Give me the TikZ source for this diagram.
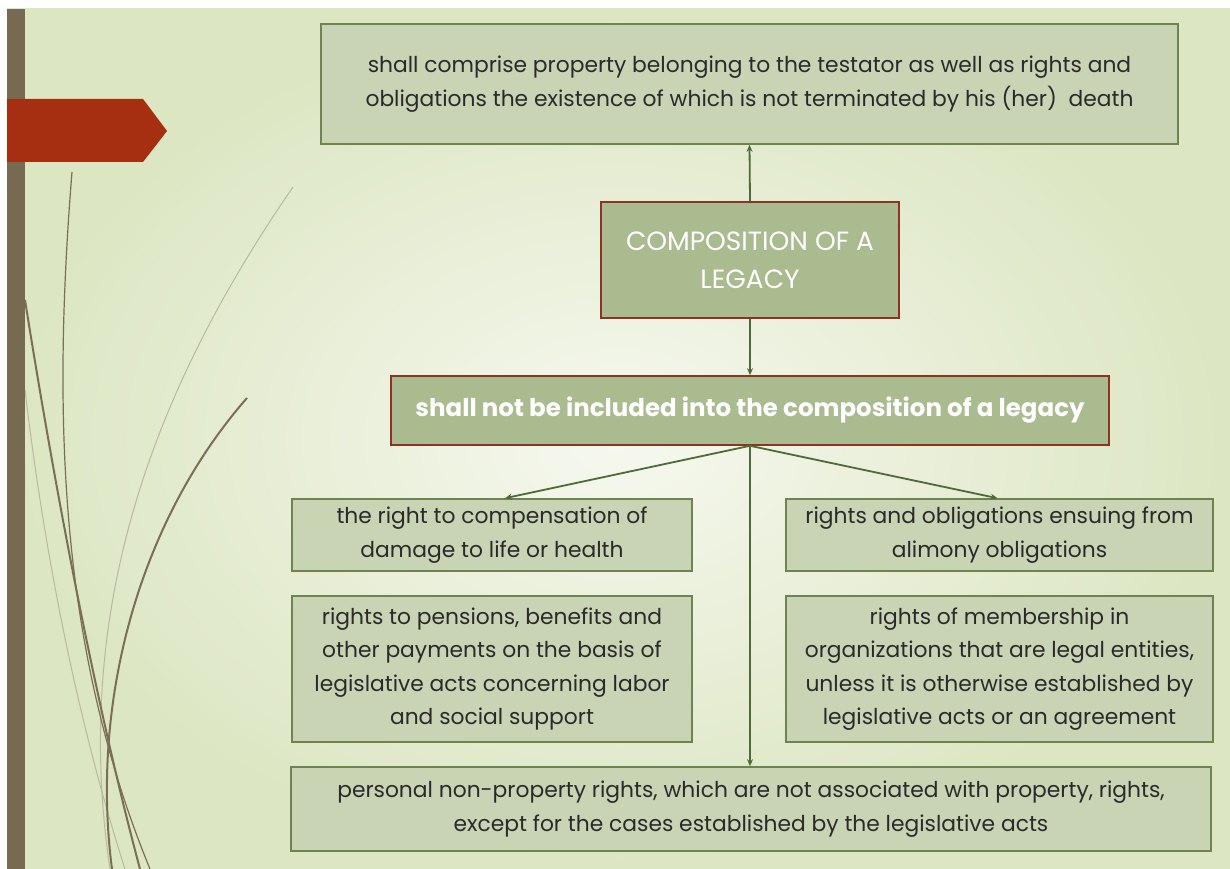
\documentclass[tikz,border=0pt]{standalone}
\usepackage{fontspec}
\setmainfont{Poppins}
\usetikzlibrary{arrows.meta,calc}
\definecolor{bgA}{HTML}{DCE6C2}
\definecolor{bgB}{HTML}{F6F8EF}
\definecolor{barc}{HTML}{766B52}
\definecolor{redc}{HTML}{A52F10}
\definecolor{boxf}{HTML}{C9D4B5}
\definecolor{boxd}{HTML}{6E8350}
\definecolor{keyf}{HTML}{A9BB8F}
\definecolor{keyd}{HTML}{8E3322}
\definecolor{arr}{HTML}{4E6A38}
\definecolor{txt}{HTML}{2A2A2A}
\definecolor{curveA}{HTML}{7A6F56}
\definecolor{curveB}{HTML}{B9B8A0}
\begin{document}
\begin{tikzpicture}[x=1pt,y=-1pt,
  plainbox/.style={draw=boxd,fill=boxf,line width=1.6pt,inner sep=0pt,text=txt,align=center,
    font=\fontsize{21.8}{33.5}\selectfont},
  keybox/.style={draw=keyd,fill=keyf,line width=1.6pt,inner sep=0pt,text=white,align=center},
  link/.style={draw=arr,line width=1.8pt,-{Stealth[length=7pt,width=6pt]}},
  curvethick/.style={draw=curveA,line width=2pt},
  curvethin/.style={draw=curveB,line width=1pt}]
\useasboundingbox (0,0) rectangle (1230,869);
\fill[white] (0,0) rectangle (1230,869);
\shade[inner color=bgB,outer color=bgA] (7,9) rectangle (1230,869);
% decorative curves
\draw[curvethin] (293,187) .. controls (160,380) and (70,600) .. (110,869);
\draw[curvethin] (25,390) .. controls (50,600) and (90,760) .. (125,869);
\draw[curveA,line width=1.2pt] (72,172) .. controls (52,420) and (60,650) .. (150,869);
\draw[curvethick] (25,300) .. controls (60,520) and (100,720) .. (140,869);
\draw[curvethick] (247,398) .. controls (140,520) and (90,700) .. (112,869);
% left bar and red tag
\fill[barc] (7,9) rectangle (25,869);
\fill[redc] (7,99) -- (143,99) -- (167,131) -- (143,162) -- (7,162) -- cycle;
% nodes
\node[plainbox,minimum width=857pt,minimum height=120pt] (top) at (749.5,84)
  {shall comprise property belonging to the testator as well as rights and\\obligations the existence of which is not terminated by his (her) \ death};
\node[keybox,minimum width=298pt,minimum height=116pt,font=\fontsize{26.4}{38}\selectfont] (comp) at (750,260)
  {COMPOSITION OF A\\LEGACY};
\node[keybox,minimum width=718pt,minimum height=69pt,font=\fontsize{24.5}{30}\selectfont\bfseries] (mid) at (750,410.5)
  {shall not be included into the composition of a legacy};
\node[plainbox,minimum width=400pt,minimum height=72pt] (l1) at (492,535)
  {the right to compensation of\\damage to life or health};
\node[plainbox,minimum width=427pt,minimum height=72pt] (r1) at (999.5,535)
  {rights and obligations ensuing from\\alimony obligations};
\node[plainbox,minimum width=400pt,minimum height=146pt] (l2) at (492,669)
  {rights to pensions, benefits and\\other payments on the basis of\\legislative acts concerning labor\\and social support};
\node[plainbox,minimum width=427pt,minimum height=146pt] (r2) at (999.5,669)
  {rights of membership in\\organizations that are legal entities,\\unless it is otherwise established by\\legislative acts or an agreement};
\node[plainbox,minimum width=920pt,minimum height=84pt] (bot) at (751,809)
  {personal non-property rights, which are not associated with property, rights,\\except for the cases established by the legislative acts};
% connectors
\draw[link] (comp.north) -- (top.south);
\draw[link] (comp.south) -- (mid.north);
\draw[link] (mid.south) -- ($(l1.north)+(13,0)$);
\draw[link] (mid.south) -- ($(r1.north)+(-2,0)$);
\draw[link] (mid.south) -- (mid.south |- bot.north);
\end{tikzpicture}
\end{document}
